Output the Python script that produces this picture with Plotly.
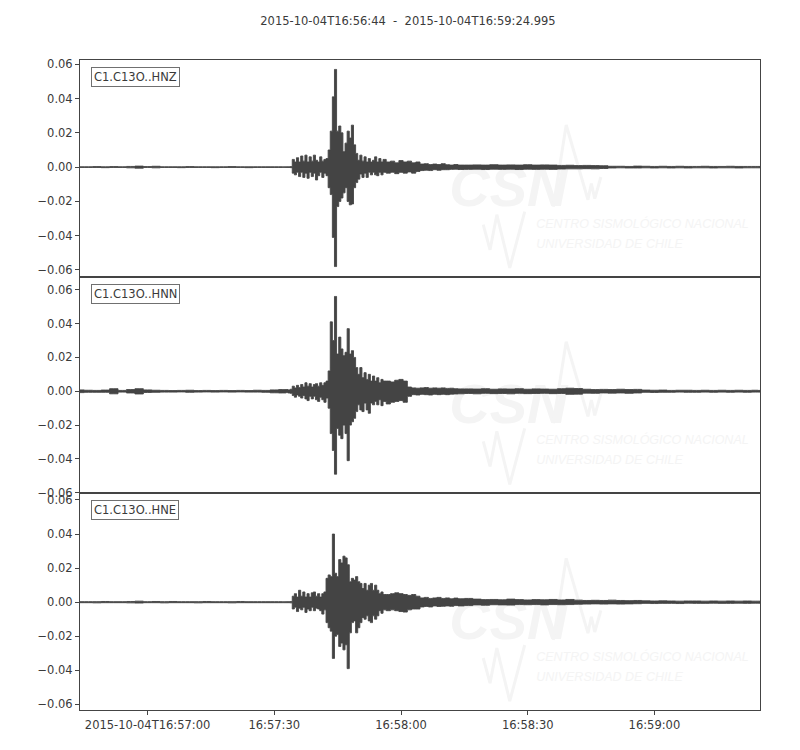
import pandas as pd
import plotly.graph_objects as go
from plotly.subplots import make_subplots

# ---------------- data ----------------
start_time = "2015-10-04 16:56:44"
end_time = "2015-10-04 16:59:24.995"
title_text = "2015-10-04T16:56:44\u00a0\u00a0-\u00a0\u00a02015-10-04T16:59:24.995"
channels = ["C1.C13O..HNZ", "C1.C13O..HNN", "C1.C13O..HNE"]

# seconds after start_time
t_sec = [
    0, 2, 4, 6, 8, 10, 12, 14, 16, 18, 20, 22, 24, 26, 28, 30, 32, 34, 36, 38, 40, 42, 44, 46, 48,
    48.5, 49, 49.5, 50, 50.5, 51, 51.5, 52,
    52.5, 53, 53.5, 54, 54.5, 55, 55.5, 56,
    56.5, 57, 57.5, 58, 58.5, 59, 59.5, 60,
    60.5, 61, 61.5, 62, 62.5, 63, 63.5, 64,
    64.5, 65, 65.5, 66, 66.5, 67, 67.5, 68,
    68.5, 69, 69.5, 70, 70.5, 71, 71.5, 72,
    73, 74, 75, 76, 77, 78, 79, 80, 81, 82, 83, 84, 85, 86, 87, 88, 89, 90,
    92, 94, 96, 98, 100, 102, 104, 106, 108, 110, 112, 114, 116, 118, 120, 122, 124, 126,
    128, 130, 132, 134, 136, 138, 140, 142, 144, 146, 148, 150, 152, 154, 156, 158, 160, 160.995,
]

# per-interval maxima / minima (envelope) of each trace
hnz_max = [
    0.0002, 0.0002, 0.0003, 0.0002, 0.0003, 0.0002, 0.0004, 0.0006, 0.0003, 0.0005, 0.0002, 0.0002, 0.0002,
    0.0003, 0.0002, 0.0002, 0.0002, 0.0002, 0.0003, 0.0002, 0.0002, 0.0002, 0.0002, 0.0002, 0.0002,
    0.0002, 0.0002, 0.0002, 0.0003, 0.0045, 0.0030, 0.0055, 0.0030,
    0.0065, 0.0035, 0.0070, 0.0030, 0.0060, 0.0035, 0.0070, 0.0040,
    0.0030, 0.0060, 0.0035, 0.0045, 0.0050, 0.0100, 0.0210, 0.0410,
    0.0570, 0.0210, 0.0240, 0.0200, 0.0090, 0.0140, 0.0210, 0.0170,
    0.0245, 0.0130, 0.0080, 0.0040, 0.0070, 0.0035, 0.0060, 0.0030,
    0.0050, 0.0030, 0.0040, 0.0060, 0.0030, 0.0050, 0.0030, 0.0045,
    0.0030, 0.0035, 0.0025, 0.0038, 0.0030, 0.0035, 0.0025, 0.0030, 0.0018, 0.0020, 0.0015, 0.0018,
    0.0015, 0.0020, 0.0014, 0.0012, 0.0015, 0.0012,
    0.0012, 0.0013, 0.0012, 0.0014, 0.0012, 0.0013, 0.0012, 0.0014, 0.0012, 0.0013, 0.0012,
    0.0010, 0.0011, 0.0009, 0.0010, 0.0009, 0.0008,
    0.0005, 0.0005, 0.0004, 0.0006, 0.0005, 0.0004, 0.0005, 0.0004, 0.0005, 0.0004, 0.0004, 0.0005,
    0.0004, 0.0004, 0.0005, 0.0004, 0.0004, 0.0004, 0.0004,
]
hnz_min = [
    -0.0002, -0.0002, -0.0002, -0.0003, -0.0002, -0.0002, -0.0004, -0.0006, -0.0002, -0.0004, -0.0002, -0.0002, -0.0003,
    -0.0002, -0.0002, -0.0002, -0.0003, -0.0002, -0.0002, -0.0002, -0.0003, -0.0002, -0.0002, -0.0002, -0.0002,
    -0.0002, -0.0002, -0.0002, -0.0003, -0.0035, -0.0045, -0.0030, -0.0055,
    -0.0030, -0.0060, -0.0035, -0.0065, -0.0030, -0.0055, -0.0035, -0.0075,
    -0.0050, -0.0030, -0.0060, -0.0035, -0.0050, -0.0120, -0.0160, -0.0410,
    -0.0580, -0.0230, -0.0200, -0.0180, -0.0150, -0.0120, -0.0200, -0.0220,
    -0.0215, -0.0120, -0.0090, -0.0070, -0.0040, -0.0060, -0.0035, -0.0060,
    -0.0030, -0.0045, -0.0030, -0.0045, -0.0050, -0.0030, -0.0045, -0.0030,
    -0.0035, -0.0030, -0.0038, -0.0030, -0.0035, -0.0028, -0.0035, -0.0025, -0.0020, -0.0018, -0.0020, -0.0015,
    -0.0018, -0.0015, -0.0015, -0.0013, -0.0012, -0.0014,
    -0.0013, -0.0012, -0.0014, -0.0012, -0.0013, -0.0012, -0.0014, -0.0012, -0.0013, -0.0012, -0.0013,
    -0.0011, -0.0010, -0.0010, -0.0009, -0.0010, -0.0008,
    -0.0005, -0.0004, -0.0005, -0.0005, -0.0004, -0.0005, -0.0004, -0.0005, -0.0004, -0.0005, -0.0004, -0.0004,
    -0.0005, -0.0004, -0.0004, -0.0005, -0.0004, -0.0004, -0.0004,
]

hnn_max = [
    0.0008, 0.0006, 0.0005, 0.0007, 0.0015, 0.0005, 0.0010, 0.0015, 0.0008, 0.0006, 0.0005, 0.0004, 0.0005,
    0.0006, 0.0004, 0.0005, 0.0004, 0.0005, 0.0004, 0.0005, 0.0004, 0.0006, 0.0005, 0.0008, 0.0010,
    0.0010, 0.0010, 0.0008, 0.0012, 0.0030, 0.0020, 0.0035, 0.0022,
    0.0040, 0.0025, 0.0050, 0.0030, 0.0045, 0.0025, 0.0040, 0.0045,
    0.0030, 0.0050, 0.0035, 0.0050, 0.0060, 0.0120, 0.0410, 0.0300,
    0.0560, 0.0220, 0.0320, 0.0250, 0.0210, 0.0230, 0.0370, 0.0220,
    0.0240, 0.0200, 0.0140, 0.0100, 0.0140, 0.0080, 0.0110, 0.0070,
    0.0100, 0.0060, 0.0090, 0.0060, 0.0080, 0.0050, 0.0070, 0.0060,
    0.0060, 0.0055, 0.0065, 0.0070, 0.0060, 0.0025, 0.0020, 0.0018, 0.0020, 0.0022, 0.0018, 0.0020,
    0.0018, 0.0020, 0.0017, 0.0018, 0.0015, 0.0014,
    0.0014, 0.0013, 0.0015, 0.0012, 0.0014, 0.0013, 0.0015, 0.0012, 0.0014, 0.0013, 0.0012, 0.0015,
    0.0018, 0.0016, 0.0012, 0.0010, 0.0011, 0.0010, 0.0012, 0.0010, 0.0011,
    0.0007, 0.0006, 0.0007, 0.0005, 0.0006, 0.0006, 0.0005, 0.0006, 0.0005, 0.0006, 0.0005, 0.0006,
    0.0005, 0.0006, 0.0005,
]
hnn_min = [
    -0.0008, -0.0006, -0.0006, -0.0006, -0.0015, -0.0005, -0.0010, -0.0016, -0.0007, -0.0006, -0.0005, -0.0005, -0.0004,
    -0.0006, -0.0005, -0.0004, -0.0005, -0.0004, -0.0005, -0.0004, -0.0005, -0.0005, -0.0006, -0.0009, -0.0010,
    -0.0010, -0.0008, -0.0010, -0.0012, -0.0025, -0.0035, -0.0022, -0.0030,
    -0.0040, -0.0025, -0.0045, -0.0055, -0.0030, -0.0045, -0.0030, -0.0050,
    -0.0060, -0.0035, -0.0050, -0.0065, -0.0040, -0.0100, -0.0250, -0.0350,
    -0.0490, -0.0220, -0.0260, -0.0280, -0.0200, -0.0250, -0.0410, -0.0200,
    -0.0180, -0.0160, -0.0120, -0.0080, -0.0110, -0.0120, -0.0070, -0.0110,
    -0.0130, -0.0070, -0.0080, -0.0060, -0.0080, -0.0050, -0.0085, -0.0060,
    -0.0075, -0.0065, -0.0060, -0.0055, -0.0065, -0.0030, -0.0020, -0.0022, -0.0018, -0.0020, -0.0022, -0.0018,
    -0.0020, -0.0018, -0.0020, -0.0017, -0.0016, -0.0015,
    -0.0013, -0.0015, -0.0012, -0.0014, -0.0013, -0.0015, -0.0012, -0.0014, -0.0013, -0.0012, -0.0014, -0.0013,
    -0.0018, -0.0017, -0.0011, -0.0012, -0.0010, -0.0011, -0.0010, -0.0012, -0.0010,
    -0.0006, -0.0007, -0.0006, -0.0006, -0.0005, -0.0006, -0.0006, -0.0005, -0.0006, -0.0005, -0.0006, -0.0005,
    -0.0006, -0.0005, -0.0005,
]

hne_max = [
    0.0003, 0.0003, 0.0003, 0.0004, 0.0003, 0.0003, 0.0004, 0.0006, 0.0003, 0.0004, 0.0003, 0.0004, 0.0003,
    0.0003, 0.0003, 0.0004, 0.0003, 0.0003, 0.0003, 0.0004, 0.0003, 0.0003, 0.0003, 0.0003, 0.0003,
    0.0003, 0.0003, 0.0003, 0.0004, 0.0035, 0.0050, 0.0030, 0.0070,
    0.0035, 0.0060, 0.0030, 0.0050, 0.0030, 0.0055, 0.0060, 0.0035,
    0.0050, 0.0030, 0.0050, 0.0060, 0.0140, 0.0160, 0.0150, 0.0400,
    0.0170, 0.0150, 0.0250, 0.0230, 0.0270, 0.0260, 0.0220, 0.0120,
    0.0140, 0.0130, 0.0150, 0.0120, 0.0110, 0.0080, 0.0110, 0.0070,
    0.0100, 0.0110, 0.0070, 0.0100, 0.0070, 0.0050, 0.0060, 0.0045,
    0.0045, 0.0050, 0.0055, 0.0050, 0.0045, 0.0040, 0.0045, 0.0035, 0.0025, 0.0028, 0.0022, 0.0025,
    0.0028, 0.0022, 0.0025, 0.0020, 0.0024, 0.0020,
    0.0022, 0.0018, 0.0015, 0.0016, 0.0014, 0.0018, 0.0015, 0.0013, 0.0015, 0.0014, 0.0016, 0.0013,
    0.0016, 0.0012, 0.0010, 0.0011, 0.0010, 0.0012, 0.0010, 0.0009, 0.0010,
    0.0008, 0.0007, 0.0008, 0.0007, 0.0006, 0.0007, 0.0007, 0.0006, 0.0007, 0.0006, 0.0007, 0.0006,
    0.0007, 0.0006, 0.0006,
]
hne_min = [
    -0.0003, -0.0003, -0.0004, -0.0003, -0.0003, -0.0003, -0.0004, -0.0005, -0.0003, -0.0003, -0.0004, -0.0003, -0.0003,
    -0.0003, -0.0004, -0.0003, -0.0003, -0.0003, -0.0004, -0.0003, -0.0003, -0.0003, -0.0003, -0.0003, -0.0003,
    -0.0003, -0.0003, -0.0003, -0.0004, -0.0040, -0.0030, -0.0055, -0.0035,
    -0.0045, -0.0030, -0.0060, -0.0040, -0.0050, -0.0030, -0.0050, -0.0035,
    -0.0040, -0.0050, -0.0070, -0.0045, -0.0120, -0.0150, -0.0170, -0.0330,
    -0.0200, -0.0190, -0.0260, -0.0240, -0.0280, -0.0250, -0.0390, -0.0180,
    -0.0120, -0.0110, -0.0180, -0.0150, -0.0120, -0.0090, -0.0100, -0.0080,
    -0.0110, -0.0120, -0.0080, -0.0100, -0.0080, -0.0050, -0.0065, -0.0045,
    -0.0050, -0.0045, -0.0050, -0.0055, -0.0058, -0.0045, -0.0040, -0.0040, -0.0028, -0.0025, -0.0028, -0.0022,
    -0.0025, -0.0024, -0.0022, -0.0024, -0.0020, -0.0022,
    -0.0020, -0.0016, -0.0018, -0.0015, -0.0016, -0.0017, -0.0014, -0.0015, -0.0014, -0.0016, -0.0014, -0.0015,
    -0.0014, -0.0012, -0.0011, -0.0010, -0.0011, -0.0010, -0.0011, -0.0010, -0.0009,
    -0.0007, -0.0008, -0.0007, -0.0007, -0.0008, -0.0006, -0.0007, -0.0007, -0.0006, -0.0007, -0.0007, -0.0006,
    -0.0007, -0.0006, -0.0006,
]

x_tick_times = ["2015-10-04 16:57:00", "2015-10-04 16:57:30", "2015-10-04 16:58:00",
                "2015-10-04 16:58:30", "2015-10-04 16:59:00"]
x_tick_labels = ["2015-10-04T16:57:00", "16:57:30", "16:58:00", "16:58:30", "16:59:00"]
y_tick_values = [-0.06, -0.04, -0.02, 0.0, 0.02, 0.04, 0.06]
y_tick_labels = ["\u22120.06", "\u22120.04", "\u22120.02", "0.00", "0.02", "0.04", "0.06"]
y_ranges = [[-0.0639, 0.0625], [-0.0603, 0.0677], [-0.0633, 0.0639]]

series = [(hnz_max, hnz_min), (hnn_max, hnn_min), (hne_max, hne_min)]
for mx, mn in series:
    assert len(mx) == len(t_sec) and len(mn) == len(t_sec), (len(mx), len(mn), len(t_sec))

# ---------------- figure ----------------
TEXT = "#3a3a3a"
AXIS = "#444444"
WAVE = "#444444"
WM = "#f4f4f4"
FONT = "DejaVu Sans"
WM_FONT = "Liberation Sans, Arial, sans-serif"

base = pd.Timestamp(start_time)
times = [(base + pd.Timedelta(seconds=s)).strftime("%Y-%m-%d %H:%M:%S.%f") for s in t_sec]

fig = make_subplots(rows=3, cols=1, shared_xaxes=True, vertical_spacing=0)

for i, (mx, mn) in enumerate(series):
    fig.add_trace(
        go.Scatter(
            x=times + times[::-1],
            y=list(mx) + list(mn)[::-1],
            mode="lines",
            fill="toself",
            fillcolor=WAVE,
            line=dict(color=WAVE, width=0.9, shape="hvh"),
            hoverinfo="skip",
            showlegend=False,
        ),
        row=i + 1, col=1,
    )

for i in range(3):
    xa = "x" if i == 0 else f"x{i+1}"
    ya = "y" if i == 0 else f"y{i+1}"
    fig.update_yaxes(
        range=y_ranges[i], tickvals=y_tick_values, ticktext=y_tick_labels,
        showline=True, mirror=True, linecolor=AXIS, linewidth=1,
        ticks="outside", ticklen=4, tickcolor=AXIS, tickwidth=1,
        showgrid=False, zeroline=False,
        tickfont=dict(family=FONT, size=11.5, color=TEXT),
        row=i + 1, col=1,
    )
    fig.update_xaxes(
        type="date", range=[start_time, end_time],
        showline=True, mirror=True, linecolor=AXIS, linewidth=1,
        showgrid=False, zeroline=False,
        tickvals=x_tick_times, ticktext=x_tick_labels,
        ticks="outside" if i == 2 else "", ticklen=4, tickcolor=AXIS,
        showticklabels=(i == 2),
        tickfont=dict(family=FONT, size=11.5, color=TEXT),
        row=i + 1, col=1,
    )
    # channel label
    fig.add_annotation(
        text=channels[i], xref=f"{xa} domain", yref=f"{ya} domain",
        x=0.016, y=0.968, xanchor="left", yanchor="top", showarrow=False,
        font=dict(family=FONT, size=11.5, color=TEXT),
        bgcolor="white", bordercolor="#707070", borderwidth=1, borderpad=2,
    )
    # faint CSN watermark (below the trace)
    fig.add_shape(
        type="rect", xref=f"{xa} domain", yref=f"{ya} domain",
        x0=0.545, x1=0.715, y0=0.32, y1=0.56, line=dict(width=0),
        fillcolor="rgba(0,0,0,0)", layer="below",
        label=dict(text="CSN", textposition="middle center",
                   font=dict(family=WM_FONT, size=56, color=WM,
                             style="italic", weight="bold")),
    )
    fig.add_shape(
        type="rect", xref=f"{xa} domain", yref=f"{ya} domain",
        x0=0.662, x1=0.99, y0=0.21, y1=0.29, line=dict(width=0),
        fillcolor="rgba(0,0,0,0)", layer="below",
        label=dict(text="CENTRO SISMOLÓGICO NACIONAL", textposition="middle left",
                   font=dict(family=WM_FONT, size=12.5, color=WM, style="italic")),
    )
    fig.add_shape(
        type="rect", xref=f"{xa} domain", yref=f"{ya} domain",
        x0=0.662, x1=0.99, y0=0.12, y1=0.20, line=dict(width=0),
        fillcolor="rgba(0,0,0,0)", layer="below",
        label=dict(text="UNIVERSIDAD DE CHILE", textposition="middle left",
                   font=dict(family=WM_FONT, size=12.5, color=WM, style="italic")),
    )
    fig.add_shape(
        type="path", xref=f"{xa} domain", yref=f"{ya} domain", layer="below",
        path="M 0.696 0.323 L 0.715 0.70 L 0.747 0.355 L 0.752 0.43 L 0.757 0.36 L 0.766 0.46",
        line=dict(color=WM, width=3),
    )
    fig.add_shape(
        type="path", xref=f"{xa} domain", yref=f"{ya} domain", layer="below",
        path="M 0.593 0.24 L 0.603 0.124 L 0.613 0.286 L 0.632 0.041 L 0.654 0.30",
        line=dict(color=WM, width=3),
    )

# the page puts the figure 8 px in from the top-left corner; margins compensate
fig.update_layout(
    width=800, height=750,
    margin=dict(l=72, r=48, t=52, b=48),
    paper_bgcolor="white", plot_bgcolor="white",
    title=dict(text=title_text, x=0.5, xref="container", xanchor="center",
               y=1 - 13 / 750, yref="container", yanchor="middle",
               font=dict(family=FONT, size=11.5, color=TEXT)),
    showlegend=False,
)

fig.write_html("out.html")
